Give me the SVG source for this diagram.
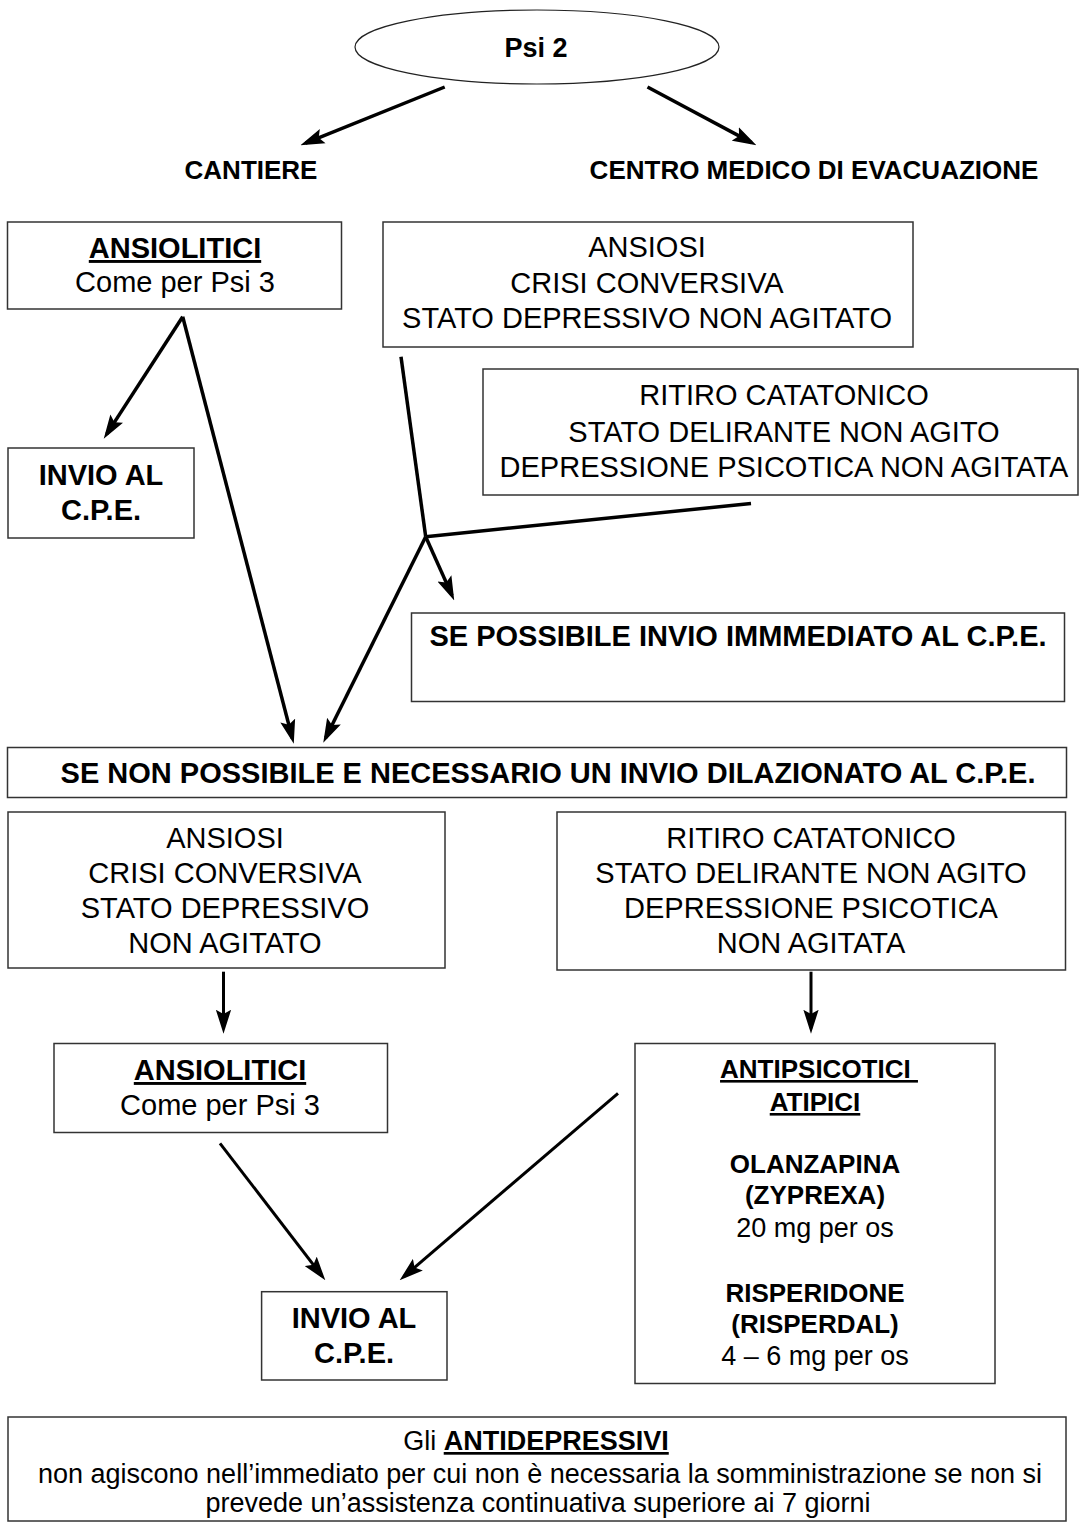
<svg xmlns="http://www.w3.org/2000/svg" width="1085" height="1525" viewBox="0 0 1085 1525">
<defs>
<style>
.box{fill:#fff;stroke:#333;stroke-width:1.5}
.t{font-family:"Liberation Sans",Arial,sans-serif;font-size:29px;fill:#000;text-anchor:middle}
.b{font-weight:bold}
.u{text-decoration:underline}
.s27{font-size:27px}
.s26{font-size:26px}
.c{fill:none;stroke:#000;stroke-width:3.5}
.c2{fill:none;stroke:#000;stroke-width:3}
</style>
<marker id="ah" markerUnits="userSpaceOnUse" markerWidth="24" markerHeight="16" viewBox="0 0 22 14" refX="17" refY="7" orient="auto">
<path d="M0,0 L22,7 L0,14 L4,7 z" fill="#000"/>
</marker>
</defs>
<rect width="1085" height="1525" fill="#fff"/>

<g id="connectors">
<line class="c" x1="444.7" y1="87" x2="305.5" y2="143.1" marker-end="url(#ah)"/>
<line class="c" x1="647.5" y1="87" x2="751.6" y2="142.6" marker-end="url(#ah)"/>
<line class="c" x1="182.7" y1="316.7" x2="106.7" y2="434.1" marker-end="url(#ah)"/>
<line class="c" x1="182.7" y1="316.7" x2="292.4" y2="738.5" marker-end="url(#ah)"/>
<line class="c" x1="401" y1="356.7" x2="425.7" y2="536.7"/>
<line class="c" x1="751" y1="503.5" x2="425.7" y2="536.7"/>
<line class="c" x1="425.7" y1="536.7" x2="452" y2="595.4" marker-end="url(#ah)"/>
<line class="c" x1="425.7" y1="536.7" x2="325.7" y2="737.8" marker-end="url(#ah)"/>
<line class="c2" x1="223.5" y1="971.7" x2="223.5" y2="1028.3" marker-end="url(#ah)"/>
<line class="c2" x1="811" y1="971.7" x2="811" y2="1028.3" marker-end="url(#ah)"/>
<line class="c2" x1="220" y1="1143.3" x2="322" y2="1276" marker-end="url(#ah)"/>
<line class="c2" x1="618" y1="1093.3" x2="403.8" y2="1276.7" marker-end="url(#ah)"/>
</g>

<g id="psi2">
<ellipse cx="537" cy="47" rx="182" ry="37" fill="#fff" stroke="#222" stroke-width="1.2"/>
<text class="t b s27" x="536" y="57">Psi 2</text>
</g>

<g id="cantiere">
<text class="t b s26" x="251" y="179">CANTIERE</text>
</g>

<g id="centro-medico">
<text class="t b s26" x="814" y="179">CENTRO MEDICO DI EVACUAZIONE</text>
</g>

<g id="ansiolitici-top">
<rect class="box" x="7.5" y="222" width="334" height="87"/>
<text class="t b u" x="175" y="258">ANSIOLITICI</text>
<text class="t" x="175" y="292">Come per Psi 3</text>
</g>

<g id="ansiosi-top">
<rect class="box" x="383" y="222" width="530" height="125"/>
<text class="t" x="647" y="257">ANSIOSI</text>
<text class="t" x="647" y="293">CRISI CONVERSIVA</text>
<text class="t" x="647" y="328">STATO DEPRESSIVO NON AGITATO</text>
</g>

<g id="ritiro-top">
<rect class="box" x="483" y="369" width="595" height="126"/>
<text class="t" x="784" y="405">RITIRO CATATONICO</text>
<text class="t" x="784" y="442">STATO DELIRANTE NON AGITO</text>
<text class="t" x="784" y="477">DEPRESSIONE PSICOTICA NON AGITATA</text>
</g>

<g id="invio-top">
<rect class="box" x="8" y="448" width="186" height="90"/>
<text class="t b" x="101" y="485">INVIO AL</text>
<text class="t b" x="101" y="520">C.P.E.</text>
</g>

<g id="se-possibile">
<rect class="box" x="411.5" y="613" width="653" height="88.5"/>
<text class="t b" x="738" y="646">SE POSSIBILE INVIO IMMMEDIATO AL C.P.E.</text>
</g>

<g id="se-non-possibile">
<rect class="box" x="7.5" y="747.5" width="1059" height="50"/>
<text class="t b" x="548" y="783">SE NON POSSIBILE E NECESSARIO UN INVIO DILAZIONATO AL C.P.E.</text>
</g>

<g id="ansiosi-bottom">
<rect class="box" x="8" y="812" width="437" height="156"/>
<text class="t" x="225" y="848">ANSIOSI</text>
<text class="t" x="225" y="883">CRISI CONVERSIVA</text>
<text class="t" x="225" y="918">STATO DEPRESSIVO</text>
<text class="t" x="225" y="953">NON AGITATO</text>
</g>

<g id="ritiro-bottom">
<rect class="box" x="557" y="812" width="508.5" height="158"/>
<text class="t" x="811" y="848">RITIRO CATATONICO</text>
<text class="t" x="811" y="883">STATO DELIRANTE NON AGITO</text>
<text class="t" x="811" y="918">DEPRESSIONE PSICOTICA</text>
<text class="t" x="811" y="953">NON AGITATA</text>
</g>

<g id="ansiolitici-bottom">
<rect class="box" x="54" y="1043.5" width="333.5" height="89"/>
<text class="t b u" x="220" y="1080">ANSIOLITICI</text>
<text class="t" x="220" y="1115">Come per Psi 3</text>
</g>

<g id="antipsicotici">
<rect class="box" x="635" y="1043.5" width="360" height="340"/>
<text class="t b u s26" x="819" y="1078" style="white-space:pre">ANTIPSICOTICI </text>
<text class="t b u s26" x="815" y="1111">ATIPICI</text>
<text class="t b s26" x="815" y="1173">OLANZAPINA</text>
<text class="t b s26" x="815" y="1204">(ZYPREXA)</text>
<text class="t s27" x="815" y="1237">20 mg per os</text>
<text class="t b s26" x="815" y="1302">RISPERIDONE</text>
<text class="t b s26" x="815" y="1333">(RISPERDAL)</text>
<text class="t s27" x="815" y="1365">4 – 6 mg per os</text>
</g>

<g id="invio-bottom">
<rect class="box" x="261.6" y="1291.7" width="185.4" height="88.3"/>
<text class="t b" x="354" y="1328">INVIO AL</text>
<text class="t b" x="354" y="1363">C.P.E.</text>
</g>

<g id="antidepressivi-note">
<rect class="box" x="8" y="1417" width="1058" height="104"/>
<text class="t s27" x="536" y="1450">Gli <tspan class="b u">ANTIDEPRESSIVI</tspan></text>
<text class="t s27" x="540" y="1483">non agiscono nell’immediato per cui non è necessaria la somministrazione se non si</text>
<text class="t s27" x="538" y="1512">prevede un’assistenza continuativa superiore ai 7 giorni</text>
</g>
</svg>
